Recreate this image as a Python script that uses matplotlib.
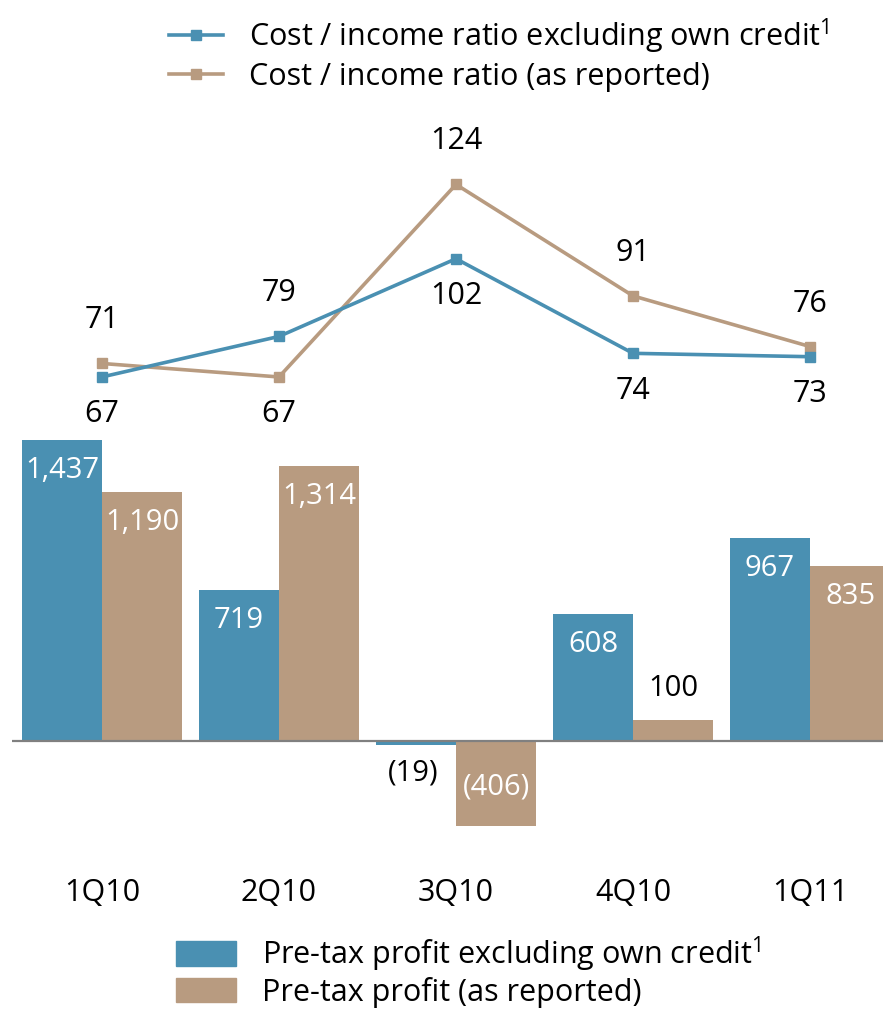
import numpy as np
import matplotlib
matplotlib.use("Agg")
import matplotlib.pyplot as plt
from matplotlib.lines import Line2D
from matplotlib.patches import Patch

plt.rcParams["font.family"] = ["Open Sans", "DejaVu Sans"]
plt.rcParams["mathtext.fontset"] = "custom"
plt.rcParams["mathtext.rm"] = "Open Sans"

# -------------------
# Data
# -------------------
quarters = ["1Q10", "2Q10", "3Q10", "4Q10", "1Q11"]
ratio_excl = [67, 79, 102, 74, 73]
ratio_rep = [71, 67, 124, 91, 76]
profit_excl = [1437, 719, -19, 608, 967]
profit_rep = [1190, 1314, -406, 100, 835]

blue = "#4A90B2"
tan = "#B89B80"
fs = 22
fs_bar = 21

W, H = 883, 1009
fig = plt.figure(figsize=(W / 100, H / 100), dpi=100)

def px_axes(x0, y0, x1, y1):
    return fig.add_axes([x0 / W, 1 - y1 / H, (x1 - x0) / W, (y1 - y0) / H])

x = np.arange(len(quarters))
xlim = (-0.508, 4.412)
bw = 0.452

# -------------------
# Line chart (cost / income ratio)
# -------------------
axl = px_axes(12, 100, 883, 430)
axl.plot(x, ratio_excl, color=blue, lw=2.6, marker="s", ms=7.5, zorder=3)
axl.plot(x, ratio_rep, color=tan, lw=2.6, marker="s", ms=7.5, zorder=2)
axl.set_xlim(*xlim)
axl.set_ylim(51.3, 149)
axl.axis("off")

for i in range(len(x)):
    a, b = ratio_excl[i], ratio_rep[i]
    hi_is_rep = b > a if i != 1 else False
    up_v, dn_v = (b, a) if hi_is_rep else (a, b)
    axl.annotate(str(up_v), (x[i], up_v), xytext=(0, 31), textcoords="offset points",
                 ha="center", va="center", fontsize=fs)
    axl.annotate(str(dn_v), (x[i], dn_v), xytext=(0, -27), textcoords="offset points",
                 ha="center", va="center", fontsize=fs)

# -------------------
# Bar chart (pre-tax profit)
# -------------------
axb = px_axes(12, 430, 883, 840)
axb.bar(x - bw / 2, profit_excl, bw, color=blue)
axb.bar(x + bw / 2, profit_rep, bw, color=tan)
axb.axhline(0, color="#808080", lw=1.6)
axb.set_xlim(*xlim)
axb.set_ylim(-472.6, 1484)
for s in axb.spines.values():
    s.set_visible(False)
axb.set_yticks([])
axb.set_xticks(x)
axb.set_xticklabels(quarters, fontsize=fs)
axb.tick_params(axis="x", length=0, pad=27)

def fmt(v):
    return f"({abs(v):,})" if v < 0 else f"{v:,}"

for xs, vals in ((x - bw / 2, profit_excl), (x + bw / 2, profit_rep)):
    for xi, v in zip(xs, vals):
        if v > 300:
            axb.annotate(fmt(v), (xi, v), xytext=(0, -22), textcoords="offset points",
                         ha="center", va="center", fontsize=fs_bar, color="white")
        elif v > 0:
            axb.annotate(fmt(v), (xi, v), xytext=(0, 23), textcoords="offset points",
                         ha="center", va="center", fontsize=fs_bar)
        elif v > -100:
            axb.annotate(fmt(v), (xi, v), xytext=(-2, -20), textcoords="offset points",
                         ha="center", va="center", fontsize=fs_bar)
        else:
            axb.annotate(fmt(v), (xi, 0), xytext=(0, -33), textcoords="offset points",
                         ha="center", va="center", fontsize=fs_bar, color="white")

# -------------------
# Legends
# -------------------
line_handles = [
    Line2D([], [], color=blue, lw=2.6, marker="s", ms=7.5),
    Line2D([], [], color=tan, lw=2.6, marker="s", ms=7.5),
]
fig.legend(line_handles,
           ["Cost / income ratio excluding own credit$^{1}$", "Cost / income ratio (as reported)"],
           loc="upper left", bbox_to_anchor=(157 / W, 1 - 4 / H), frameon=False,
           fontsize=fs, handlelength=1.75, handletextpad=0.85, labelspacing=0.2,
           borderaxespad=0)

bar_handles = [Patch(color=blue), Patch(color=tan)]
fig.legend(bar_handles,
           ["Pre-tax profit excluding own credit$^{1}$", "Pre-tax profit (as reported)"],
           loc="upper left", bbox_to_anchor=(164 / W, 1 - 922 / H), frameon=False,
           fontsize=fs, handlelength=1.95, handleheight=0.85, handletextpad=0.85,
           labelspacing=0.1, borderaxespad=0)

fig.savefig("out.png", dpi=100)
